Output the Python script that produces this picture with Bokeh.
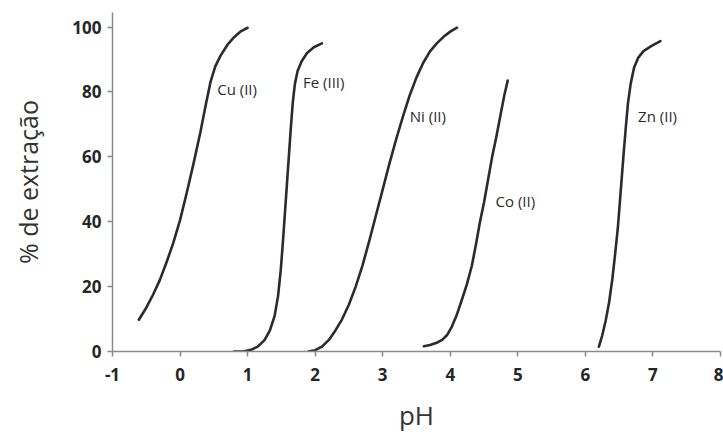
from bokeh.plotting import figure
from bokeh.models import Range1d, FixedTicker, ColumnDataSource
from bokeh.core.properties import value
from bokeh.embed import file_html
from bokeh.resources import INLINE

# Data
cu_ph = [-0.61, -0.50, -0.40, -0.30, -0.20, -0.10, 0.00, 0.10, 0.20, 0.30, 0.38, 0.45, 0.52, 0.60, 0.70, 0.80, 0.90, 1.00]
cu_ext = [9.8, 13.5, 17.5, 22.0, 27.5, 33.5, 40.5, 49.0, 58.0, 67.5, 76.0, 83.0, 87.8, 91.2, 94.5, 96.9, 98.7, 99.8]

fe_ph = [0.80, 0.95, 1.05, 1.15, 1.25, 1.33, 1.40, 1.45, 1.49, 1.52, 1.55, 1.58, 1.61, 1.64, 1.67, 1.70, 1.74, 1.80, 1.88, 1.98, 2.10]
fe_ext = [0.0, 0.1, 0.5, 1.5, 3.5, 6.5, 11.0, 17.0, 25.0, 33.0, 42.0, 51.0, 60.0, 69.0, 77.0, 82.5, 86.5, 89.5, 92.0, 93.8, 95.0]

ni_ph = [1.90, 2.00, 2.10, 2.20, 2.30, 2.40, 2.50, 2.60, 2.70, 2.80, 2.90, 3.00, 3.10, 3.20, 3.30, 3.40, 3.50, 3.60, 3.70, 3.80, 3.90, 4.00, 4.10]
ni_ext = [0.0, 0.4, 1.5, 3.5, 6.5, 10.0, 14.5, 20.0, 26.5, 34.0, 42.0, 50.0, 58.0, 65.5, 72.5, 79.0, 84.5, 89.0, 92.5, 95.0, 97.0, 98.6, 99.8]

co_ph = [3.61, 3.70, 3.80, 3.88, 3.95, 4.02, 4.10, 4.18, 4.25, 4.32, 4.38, 4.44, 4.50, 4.56, 4.62, 4.68, 4.74, 4.80, 4.85]
co_ext = [1.6, 2.0, 2.7, 3.6, 5.0, 7.5, 11.5, 16.5, 21.0, 26.5, 33.0, 40.0, 46.0, 53.0, 60.0, 66.0, 72.5, 79.0, 83.5]

zn_ph = [6.20, 6.25, 6.30, 6.35, 6.40, 6.44, 6.48, 6.51, 6.54, 6.57, 6.60, 6.63, 6.67, 6.72, 6.78, 6.86, 6.98, 7.11]
zn_ext = [1.5, 5.0, 9.5, 15.0, 22.5, 30.0, 38.0, 46.0, 54.0, 62.0, 69.5, 76.5, 82.5, 87.5, 90.5, 92.6, 94.2, 95.7]

label_text = ["Cu (II)", "Fe (III)", "Ni (II)", "Co (II)", "Zn (II)"]
label_ph = [0.55, 1.82, 3.40, 4.67, 6.78]
label_ext = [81.0, 83.0, 72.7, 46.5, 72.7]

x_ticks = [-1, 0, 1, 2, 3, 4, 5, 6, 7, 8]
y_ticks = [0, 20, 40, 60, 80, 100]

p = figure(width=723, height=435, x_range=Range1d(-1, 8), y_range=Range1d(0, 104.5),
           output_backend="svg", toolbar_location=None,
           min_border_left=112, min_border_right=3, min_border_top=12, min_border_bottom=83)
p.background_fill_color = "white"
p.border_fill_color = "white"
p.outline_line_color = None
p.xgrid.visible = False
p.ygrid.visible = False

curve_color = "#2b2b2b"
for xs, ys in [(cu_ph, cu_ext), (fe_ph, fe_ext), (ni_ph, ni_ext), (co_ph, co_ext), (zn_ph, zn_ext)]:
    p.line(xs, ys, line_color=curve_color, line_width=2.6, line_join="round", line_cap="round")

src = ColumnDataSource(dict(x=label_ph, y=label_ext, t=label_text))
p.text(x="x", y="y", text="t", source=src, text_font=value("Open Sans"),
       text_font_size="15px", text_color="#2b2b2b", text_align="left", text_baseline="middle")

for ax in (p.xaxis[0], p.yaxis[0]):
    ax.axis_line_color = "#8a8a8a"
    ax.axis_line_width = 1.5
    ax.major_tick_line_color = "#8a8a8a"
    ax.major_tick_line_width = 1.5
    ax.major_tick_out = 5
    ax.major_tick_in = 0
    ax.minor_tick_line_color = None
    ax.major_label_text_font = "Open Sans"
    ax.major_label_text_font_style = "bold"
    ax.major_label_text_font_size = "17px"
    ax.major_label_text_color = "#262626"
    ax.axis_label_text_font = "Open Sans"
    ax.axis_label_text_font_style = "normal"
    ax.axis_label_text_color = "#333333"

p.xaxis.ticker = FixedTicker(ticks=x_ticks)
p.yaxis.ticker = FixedTicker(ticks=y_ticks)
p.xaxis.major_label_overrides = {-1: "-1"}
p.xaxis.major_label_standoff = 11
p.yaxis.major_label_standoff = 6

p.xaxis.axis_label = "pH"
p.yaxis.axis_label = "% de extração"
p.xaxis.axis_label_text_font_size = "26px"
p.yaxis.axis_label_text_font_size = "25px"
p.xaxis.axis_label_standoff = 13
p.yaxis.axis_label_standoff = 24

open("out.html", "w").write(file_html(p, INLINE))
